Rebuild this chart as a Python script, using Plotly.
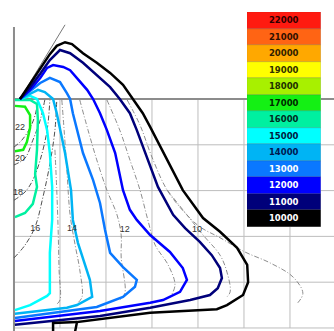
import plotly.graph_objects as go

# ---- axes / grid (grid units) ----
grid_x = [1, 2, 3, 4, 5, 6]
grid_y = [1, 2, 3, 4, 5]
x_range = [-0.304, 6.957]
y_range = [5.066, -2.162]
axis_top = -1.57
diag_x = [0.13, 1.11]
diag_y = [0.0, -1.62]

# ---- coloured contour levels ----
levels = ["22000", "21000", "20000", "19000", "18000", "17000", "16000",
          "15000", "14000", "13000", "12000", "11000", "10000"]
level_colors = ["#ff1a10", "#ff6414", "#ffa800", "#ffff00", "#a8f000", "#14f014",
                "#00f0a0", "#00ffff", "#00b4f4", "#0a78ff", "#0000ff", "#00007a", "#000000"]
level_text_colors = ["#300000", "#301000", "#302000", "#303000", "#203000", "#002800",
                     "#002820", "#002040", "#001850", "#ffffff", "#ffffff", "#ffffff", "#ffffff"]

c10000_x = [0.13, 0.35, 0.57, 0.78, 0.93, 1.11, 1.26, 1.5, 1.8, 2.09, 2.37, 2.59, 2.8, 2.96,
            3.33, 3.67, 4.11, 4.48, 4.85, 5.07, 5.09, 4.98, 4.63, 4.41, 2.96, 1.37, 1.33,
            None, 0.85, 0.85, 1.37]
c10000_y = [0, -0.33, -0.68, -0.98, -1.16, -1.24, -1.2, -1.0, -0.79, -0.57, -0.31, 0, 0.31, 0.61,
            1.33, 1.99, 2.6, 2.9, 3.25, 3.62, 4.0, 4.28, 4.5, 4.59, 4.67, 4.87, 5.07,
            None, 5.07, 4.89, 4.87]
c11000_x = [0.13, 0.35, 0.57, 0.78, 1.0, 1.22, 1.5, 1.8, 2.09, 2.3, 2.52, 2.67, 2.85, 3.13, 3.46,
            3.72, 4.04, 4.3, 4.48, 4.52, 4.43, 4.26, 3.83, 2.96, 1.87, 0.02]
c11000_y = [0, -0.26, -0.55, -0.85, -1.07, -1.0, -0.79, -0.52, -0.26, 0, 0.31, 0.68, 1.18, 1.92, 2.53,
            2.82, 3.12, 3.41, 3.69, 3.91, 4.13, 4.28, 4.39, 4.56, 4.74, 4.93]
c12000_x = [0.13, 0.35, 0.57, 0.72, 0.85, 1.07, 1.22, 1.37, 1.59, 1.72, 1.87, 2.02, 2.2, 2.37, 2.52,
            2.67, 2.96, 3.39, 3.67, 3.76, 3.61, 3.24, 2.96, 1.87, 0.02]
c12000_y = [0, -0.2, -0.46, -0.68, -0.74, -0.7, -0.63, -0.46, -0.2, 0, 0.31, 0.68, 1.18, 1.99, 2.42,
            2.64, 2.97, 3.34, 3.69, 3.95, 4.21, 4.39, 4.45, 4.63, 4.85]
c13000_x = [0.13, 0.35, 0.57, 0.78, 1.0, 1.15, 1.22, 1.28, 1.37, 1.5, 1.72, 1.87, 1.98, 2.09, 2.37,
            2.67, 2.63, 2.37, 1.8, 0.02]
c13000_y = [0, -0.17, -0.35, -0.46, -0.37, -0.13, 0, 0.31, 0.68, 1.18, 1.77, 2.27, 2.86, 3.36, 3.67,
            3.95, 4.1, 4.32, 4.54, 4.78]
c14000_x = [0.13, 0.35, 0.52, 0.67, 0.85, 0.93, 1.0, 1.11, 1.24, 1.28, 1.39, 1.65, 1.7, 1.37, 1.15, 0.02]
c14000_y = [0, -0.11, -0.2, -0.15, 0, 0.31, 0.68, 1.18, 1.99, 2.64, 3.14, 3.95, 4.32, 4.5, 4.56, 4.69]
c15000_x = [0.13, 0.35, 0.5, 0.63, 0.72, 0.78, 0.83, 0.83, 0.78, 0.78, 0.72, 0.35, 0.02]
c15000_y = [0, -0.07, 0, 0.31, 0.68, 1.18, 1.92, 2.64, 3.36, 4.24, 4.3, 4.5, 4.61]
c16000_x = [0.02, 0.35, 0.5, 0.52, 0.5, 0.46, 0.5, 0.41, 0.24, 0.02]
c16000_y = [0.02, 0.02, 0.11, 0.46, 1.11, 1.64, 1.92, 2.29, 2.49, 2.58]
c17000_x = [0.02, 0.24, 0.35, 0.35, 0.28, 0.2, 0.02]
c17000_y = [0.15, 0.17, 0.35, 0.63, 0.94, 1.11, 1.14]

# ---- thin labelled contours ----
t22_x = [0, 0.17, 0.35, 0.46, 0.52]
t22_y = [1.05, 0.9, 0.63, 0.35, 0.02]
t20_x = [0, 0.24, 0.41, 0.57, 0.67]
t20_y = [1.44, 1.29, 0.9, 0.46, 0.02]
t18_x = [0, 0.24, 0.41, 0.57, 0.72, 0.78]
t18_y = [2.21, 2.03, 1.77, 1.33, 0.68, 0.02]
t16_x = [0, 0.24, 0.46, 0.63, 0.78, 0.89, 0.93]
t16_y = [3.47, 3.19, 2.79, 2.14, 1.42, 0.68, 0.02]
t15_x = [0.89, 0.93, 0.96, 0.98, 1.0, 0.93]
t15_y = [1.11, 1.99, 2.86, 3.73, 4.39, 4.48]
t14_x = [1.04, 1.09, 1.15, 1.22, 1.33, 1.43, 1.48, 1.39]
t14_y = [0.02, 0.68, 1.55, 2.53, 3.19, 3.73, 4.32, 4.45]
t12_x = [1.43, 1.61, 1.8, 2.02, 2.24, 2.33, 2.33, 2.41, 2.3]
t12_y = [0.02, 0.68, 1.33, 1.99, 2.53, 2.97, 3.45, 4.24, 4.39]
t11_x = [2.02, 2.3, 2.52, 2.74, 2.91, 3.07, 3.35, 3.5, 3.39]
t11_y = [0.02, 0.68, 1.33, 1.99, 2.64, 3.19, 3.62, 4.06, 4.34]
t10_x = [2.46, 2.74, 3.0, 3.33, 3.72, 4.04, 4.48, 5.02, 5.57, 6.07, 6.28, 6.17]
t10_y = [0.02, 0.57, 1.27, 1.99, 2.49, 2.79, 3.03, 3.34, 3.58, 3.89, 4.24, 4.45]
t10b_x = [3.33, 3.76, 4.11, 4.48, 4.63, 4.7, 4.61]
t10b_y = [1.99, 2.53, 2.97, 3.41, 3.78, 4.21, 4.34]

label_text = ["22", "20", "18", "16", "14", "12", "10"]
label_x = [0.13, 0.13, 0.09, 0.46, 1.26, 2.41, 3.98]
label_y = [0.63, 1.31, 2.05, 2.84, 2.84, 2.86, 2.86]

fig = go.Figure()

# grid
vx, vy = [], []
for g in grid_x:
    vx += [g, g, None]
    vy += [0, grid_y[-1], None]
hx, hy = [], []
for g in grid_y:
    hx += [0, x_range[1], None]
    hy += [g, g, None]
fig.add_trace(go.Scatter(x=vx, y=vy, mode="lines", line=dict(color="#bdbdbd", width=1), hoverinfo="skip"))
fig.add_trace(go.Scatter(x=hx, y=hy, mode="lines", line=dict(color="#bdbdbd", width=1), hoverinfo="skip"))
fig.add_trace(go.Scatter(x=[0, x_range[1]], y=[0, 0], mode="lines", line=dict(color="#8c8c8c", width=2), hoverinfo="skip"))
fig.add_trace(go.Scatter(x=[0, 0], y=[axis_top, y_range[0]], mode="lines", line=dict(color="#8c8c8c", width=2), hoverinfo="skip"))
fig.add_trace(go.Scatter(x=diag_x, y=diag_y, mode="lines", line=dict(color="#777777", width=1), hoverinfo="skip"))

# thin contours
thin_dark = [(t22_x, t22_y), (t20_x, t20_y), (t18_x, t18_y), (t16_x, t16_y)]
thin_gray = [(t15_x, t15_y), (t14_x, t14_y), (t12_x, t12_y), (t11_x, t11_y), (t10_x, t10_y), (t10b_x, t10b_y)]
for tx, ty in thin_dark:
    fig.add_trace(go.Scatter(x=tx, y=ty, mode="lines",
                             line=dict(color="#505050", width=1, dash="5px,2px,1px,2px"),
                             line_shape="spline", hoverinfo="skip"))
for tx, ty in thin_gray:
    fig.add_trace(go.Scatter(x=tx, y=ty, mode="lines",
                             line=dict(color="#808080", width=0.9, dash="5px,2px,1px,2px"),
                             line_shape="spline", hoverinfo="skip"))

# coloured contours
contours = {
    "17000": (c17000_x, c17000_y), "16000": (c16000_x, c16000_y), "15000": (c15000_x, c15000_y),
    "14000": (c14000_x, c14000_y), "13000": (c13000_x, c13000_y), "12000": (c12000_x, c12000_y),
    "11000": (c11000_x, c11000_y), "10000": (c10000_x, c10000_y),
}
for lev, (cx, cy) in contours.items():
    col = level_colors[levels.index(lev)]
    fig.add_trace(go.Scatter(x=cx, y=cy, mode="lines", line=dict(color=col, width=2.5), hoverinfo="skip"))

fig.add_trace(go.Scatter(x=label_x, y=label_y, mode="text", text=label_text,
                         textfont=dict(family="Liberation Sans", size=9, color="#333333"), hoverinfo="skip"))

# colour key
fig.add_trace(go.Bar(
    x=[1] * len(levels), y=levels, orientation="h", xaxis="x2", yaxis="y2",
    marker=dict(color=level_colors, line=dict(color="rgba(0,0,0,0.25)", width=0.5)),
    text=levels, textposition="inside", insidetextanchor="middle", constraintext="none",
    textfont=dict(family="DejaVu Sans", size=8.5, color=level_text_colors, weight="bold"),
    hoverinfo="skip",
))

fig.update_layout(
    width=334, height=331, margin=dict(l=0, r=0, t=0, b=0),
    paper_bgcolor="white", plot_bgcolor="white", showlegend=False, bargap=0,
    xaxis=dict(range=x_range, visible=False),
    yaxis=dict(range=y_range, visible=False),
    xaxis2=dict(domain=[0.7395, 0.961], range=[0, 1], visible=False, anchor="y2"),
    yaxis2=dict(domain=[0.3142, 0.9637], visible=False, anchor="x2",
                categoryorder="array", categoryarray=levels[::-1]),
)

fig.write_html("out.html", config={"displayModeBar": False},
               post_script="document.body.style.margin='0';")
